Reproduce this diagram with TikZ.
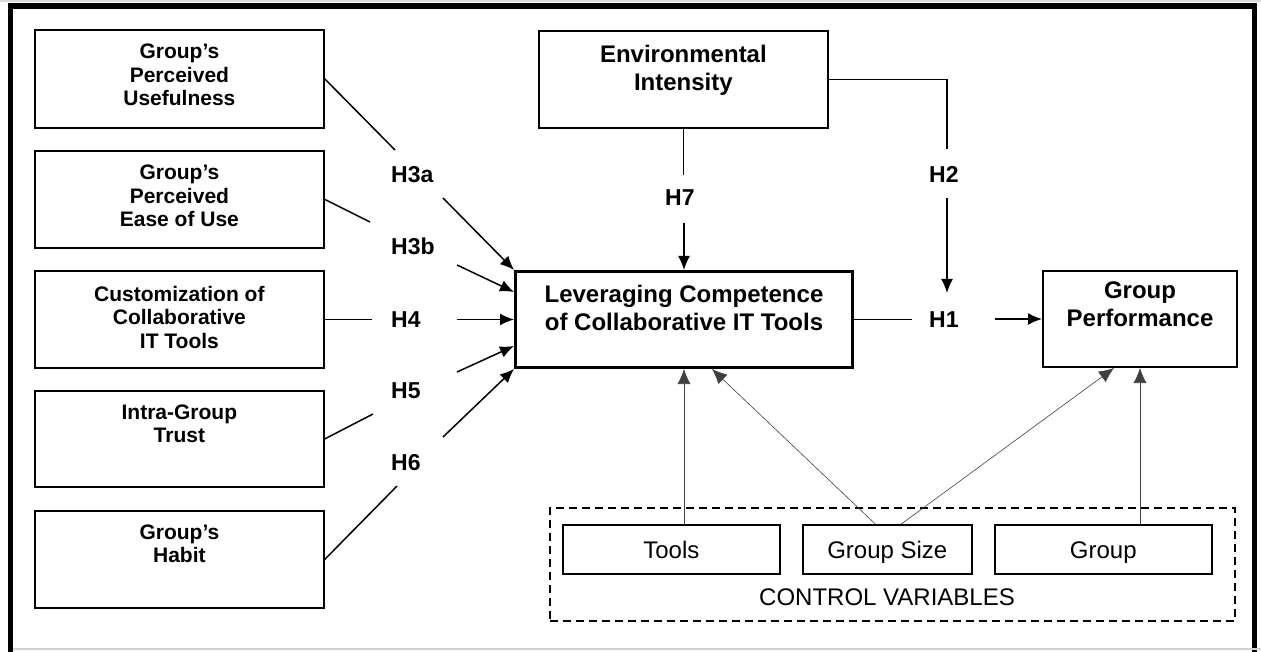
\documentclass[tikz,border=0pt]{standalone}
\usepackage{fontspec}
\setmainfont{Liberation Sans}
\usetikzlibrary{arrows.meta}
\begin{document}
\begin{tikzpicture}[x=1pt,y=-1pt,
  box/.style={draw, line width=1.8pt, inner sep=0pt, anchor=north west},
  lbl/.style={font=\bfseries\fontsize{21}{23.5}\selectfont, align=center, inner sep=0pt, anchor=north},
  big/.style={font=\bfseries\fontsize{24}{27.5}\selectfont, align=center, inner sep=0pt, anchor=north},
  hyp/.style={font=\bfseries\fontsize{23}{27}\selectfont, inner sep=0pt, anchor=base west},
  conn/.style={line width=1.5pt},
  arr/.style={line width=1.5pt, -{Latex[length=14pt,width=12pt]}},
  ctl/.style={line width=0.6pt, black!75, -{Latex[length=15pt,width=13pt]}},
  cbox/.style={draw, line width=1.6pt, inner sep=0pt, anchor=north west, font=\fontsize{24}{28}\selectfont, text height=17.5pt, text depth=0pt},
]
\useasboundingbox (0,0) rectangle (1261,652);
% frame
\draw[gray!30, line width=1.5pt] (0,1) -- (1261,1);
\draw[line width=5.5pt] (10.5,652) -- (10.5,6) -- (1254.5,6) -- (1254.5,652);
\draw[gray!35, line width=1.5pt] (13,649) -- (1261,649);

% left boxes
\node[box, minimum width=289pt, minimum height=98pt] (b1) at (34,29) {};
\node[box, minimum width=289pt, minimum height=97pt] (b2) at (34,150) {};
\node[box, minimum width=289pt, minimum height=97pt] (b3) at (34,270) {};
\node[box, minimum width=289pt, minimum height=96pt] (b4) at (34,390) {};
\node[box, minimum width=289pt, minimum height=97pt] (b5) at (34,510) {};
\node[lbl] (b1t) at ([yshift=-15pt]b1.north) {Group’s\\Perceived\\Usefulness};
\node[lbl] (b2t) at ([yshift=-15pt]b2.north) {Group’s\\Perceived\\Ease of Use};
\node[lbl] (b3t) at ([yshift=-16pt]b3.north) {Customization of\\Collaborative\\IT Tools};
\node[lbl] (b4t) at ([yshift=-14.5pt]b4.north) {Intra-Group\\Trust};
\node[lbl] (b5t) at ([yshift=-14.5pt]b5.north) {Group’s\\Habit};

% main boxes
\node[box, minimum width=289pt, minimum height=97pt] (env) at (538,30) {};
\node[big] (envt) at ([yshift=-15pt]env.north) {Environmental\\Intensity};
\node[box, line width=3pt, minimum width=337pt, minimum height=96pt] (lev) at (514,270) {};
\node[big] (levt) at ([yshift=-15pt]lev.north) {Leveraging Competence\\of Collaborative IT Tools};
\node[box, line width=2pt, minimum width=194pt, minimum height=96pt] (gp) at (1042,270) {};
\node[big] (gpt) at ([yshift=-12pt]gp.north) {Group\\Performance};

% control variables
\node[draw, line width=1.6pt, dash pattern=on 8pt off 5pt, inner sep=0pt, anchor=north west,
      minimum width=685pt, minimum height=113pt] (ctrl) at (549,507) {};
\node[cbox, minimum width=217pt, minimum height=49pt] (tools) at (562,524) {Tools};
\node[cbox, minimum width=169pt, minimum height=49pt] (gs) at (802,524) {Group Size};
\node[cbox, minimum width=217pt, minimum height=49pt] (grp) at (994,524) {Group};
\node[font=\fontsize{24}{28}\selectfont, anchor=base, inner sep=0pt] (ctrlt) at (887,605) {CONTROL VARIABLES};

% hypothesis labels
\node[hyp] (h3a) at (391,183) {H3a};
\node[hyp] (h3b) at (391,255) {H3b};
\node[hyp] (h4) at (391,327) {H4};
\node[hyp] (h5) at (391,398) {H5};
\node[hyp] (h6) at (391,470) {H6};
\node[hyp] (h7) at (665,206) {H7};
\node[hyp] (h2) at (929,183) {H2};
\node[hyp] (h1) at (929,327) {H1};

% free ends of connectors
\coordinate (e3a) at (395,150);  \coordinate (s3a) at (443,198);
\coordinate (e3b) at (370,222);  \coordinate (s3b) at (457,265);
\coordinate (e4) at ([xshift=47pt]b3.east); \coordinate (s4) at ([xshift=-57pt]lev.west);
\coordinate (e5) at (373,414);   \coordinate (s5) at (457,372);
\coordinate (e6) at (397,486);   \coordinate (s6) at (443,437);
\coordinate (e7) at ([yshift=-46pt]env.south); \coordinate (s7) at ([yshift=47pt]lev.north);
\coordinate (e2) at (947,149);   \coordinate (s2) at (947,198);
\coordinate (t2) at (947,293);
\coordinate (e1) at ([xshift=58pt]lev.east); \coordinate (s1) at ([xshift=-47pt]gp.west);

\draw[conn] (b1.east) -- (e3a);
\draw[arr] (s3a) -- (lev.north west);
\draw[conn] (b2.east) -- (e3b);
\draw[arr] (s3b) -- ([yshift=-22pt]lev.north west);
\draw[conn] (b3.east) -- (e4);
\draw[arr] (s4) -- (lev.west);
\draw[conn] (b4.east) -- (e5);
\draw[arr] (s5) -- ([yshift=23pt]lev.south west);
\draw[conn] (b5.east) -- (e6);
\draw[arr] (s6) -- (lev.south west);
\draw[conn] (env.south) -- (e7);
\draw[arr] (s7) -- (lev.north);
\draw[conn] (env.east) -| (e2);
\draw[arr] (s2) -- (t2);
\draw[conn] (lev.east) -- (e1);
\draw[arr] (s1) -- (gp.west);

% control links
\draw[ctl] (lev.south |- tools.north) -- (lev.south);
\draw[ctl] ([xshift=-12pt]gs.north) -- ([xshift=28pt]lev.south);
\draw[ctl] ([xshift=14pt]gs.north) -- ([xshift=-26pt]gp.south);
\draw[ctl] (gp.south |- grp.north) -- (gp.south);
\end{tikzpicture}
\end{document}
